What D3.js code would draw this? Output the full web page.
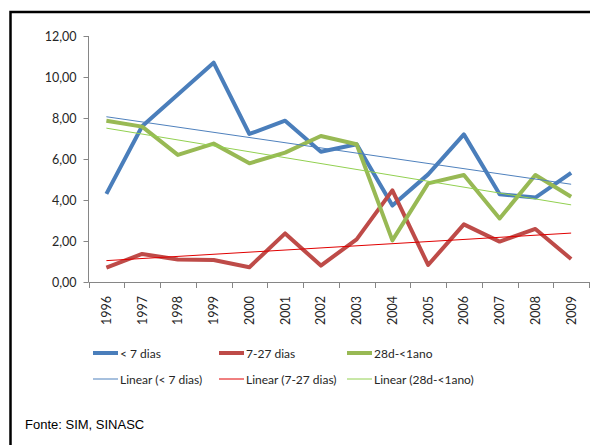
<!DOCTYPE html>
<html>
<head>
<meta charset="utf-8">
<script src="https://cdn.jsdelivr.net/npm/d3@7"></script>
<style>
  body { margin: 0; background: #fff; }
  svg { display: block; }
  .tick-label { font-family: Lato, "Liberation Sans", Arial, sans-serif; font-size: 12.5px; fill: #262626; }
  .legend-text { font-family: Lato, "Liberation Sans", Arial, sans-serif; font-size: 12px; fill: #262626; }
</style>
</head>
<body>
<svg id="chart" width="590" height="445"></svg>
<script>
// chart values
var years = ['1996', '1997', '1998', '1999', '2000', '2001', '2002',
             '2003', '2004', '2005', '2006', '2007', '2008', '2009'];
var menos7 = [4.30, 7.60, 9.15, 10.70, 7.22, 7.87, 6.35, 6.72, 3.73, 5.25, 7.20, 4.28, 4.12, 5.32];
var de7a27 = [0.70, 1.37, 1.10, 1.07, 0.72, 2.37, 0.80, 2.08, 4.47, 0.83, 2.81, 1.97, 2.59, 1.12];
var de28a1ano = [7.87, 7.58, 6.20, 6.75, 5.79, 6.31, 7.12, 6.72, 2.03, 4.81, 5.22, 3.10, 5.22, 4.16];
var yTicks = [0, 2, 4, 6, 8, 10, 12];

var series = [
    {name: '< 7 dias', values: menos7, color: '#4a7ebb', trend: '#4f81bd'},
    {name: '7-27 dias', values: de7a27, color: '#be4b48', trend: '#e00000'},
    {name: '28d-<1ano', values: de28a1ano, color: '#98b954', trend: '#92d050'}
];

var svg = d3.select('#chart');

// outer frame (only top and left visible in the crop)
svg.append('rect')
    .attr('x', 10.5).attr('y', 12)
    .attr('width', 700).attr('height', 600)
    .attr('fill', 'none')
    .attr('stroke', '#000')
    .attr('stroke-width', 2.5);

var x = d3.scaleBand().domain(years).range([88.5, 589]);
var y = d3.scaleLinear().domain([0, 12]).range([282, 36]);

// y axis
var yAxis = svg.append('g').attr('transform', 'translate(88.5,0)')
    .call(d3.axisLeft(y).tickValues(yTicks).tickSize(5).tickPadding(7)
        .tickFormat(function(d) { return d3.format('.2f')(d).replace('.', ','); }));
yAxis.select('.domain').attr('stroke', '#868686').attr('d', 'M0,' + y(12) + 'V' + y(0));
yAxis.selectAll('.tick line').attr('stroke', '#868686');
yAxis.selectAll('.tick text').attr('class', 'tick-label').attr('fill', null);

// x axis with ticks between categories
var xg = svg.append('g');
xg.append('line')
    .attr('x1', 88.5).attr('x2', 589)
    .attr('y1', y(0) + 0.5).attr('y2', y(0) + 0.5)
    .attr('stroke', '#868686');
var bounds = years.map(function(d) { return x(d); }).concat([x(years[years.length - 1]) + x.bandwidth()]);
xg.selectAll('.xtick')
    .data(bounds)
  .enter().append('line')
    .attr('class', 'xtick')
    .attr('x1', function(d) { return Math.round(d) + 0.5; })
    .attr('x2', function(d) { return Math.round(d) + 0.5; })
    .attr('y1', y(0)).attr('y2', y(0) + 6)
    .attr('stroke', '#868686');
xg.selectAll('.xlabel')
    .data(years)
  .enter().append('text')
    .attr('class', 'tick-label')
    .attr('text-anchor', 'end')
    .attr('transform', function(d) {
        return 'translate(' + (x(d) + x.bandwidth() / 2 + 4.5) + ',' + 296 + ')rotate(-90)';
    })
    .text(function(d) { return d; });

var cx = function(i) { return x(years[i]) + x.bandwidth() / 2; };
var line = d3.line()
    .x(function(d, i) { return cx(i); })
    .y(function(d) { return y(d); });

// least squares trend, as the spreadsheet does
function trendOf(values) {
    var n = values.length;
    var mx = (n - 1) / 2;
    var my = d3.mean(values);
    var sxy = d3.sum(values, function(v, i) { return (i - mx) * (v - my); });
    var sxx = d3.sum(values, function(v, i) { return (i - mx) * (i - mx); });
    var b = sxy / sxx;
    return [my - b * mx, my + b * (n - 1 - mx)];
}

series.forEach(function(s) {
    svg.append('path')
        .datum(s.values)
        .attr('fill', 'none')
        .attr('stroke', s.color)
        .attr('stroke-width', 4)
        .attr('stroke-linejoin', 'round')
        .attr('d', line);
});

series.forEach(function(s) {
    var t = trendOf(s.values);
    svg.append('line')
        .attr('x1', cx(0)).attr('y1', y(t[0]))
        .attr('x2', cx(years.length - 1)).attr('y2', y(t[1]))
        .attr('stroke', s.trend)
        .attr('stroke-width', 1);
});

// legend
var legendX = [93, 219, 347];
series.forEach(function(s, i) {
    var g = svg.append('g').attr('transform', 'translate(' + legendX[i] + ',0)');
    g.append('line').attr('x1', 0).attr('x2', 25).attr('y1', 353).attr('y2', 353)
        .attr('stroke', s.color).attr('stroke-width', 4);
    g.append('text').attr('class', 'legend-text').attr('x', 27).attr('y', 357.5).text(s.name);
    g.append('line').attr('x1', 0).attr('x2', 25).attr('y1', 379).attr('y2', 379)
        .attr('stroke', s.trend).attr('stroke-width', 1);
    g.append('text').attr('class', 'legend-text').attr('x', 27).attr('y', 383.5)
        .text('Linear (' + s.name + ')');
});

svg.append('text')
    .attr('x', 25).attr('y', 429)
    .style('font-family', '"Liberation Sans", Arial, sans-serif')
    .style('font-size', '13px')
    .attr('fill', '#000')
    .text('Fonte: SIM, SINASC');
</script>
</body>
</html>
